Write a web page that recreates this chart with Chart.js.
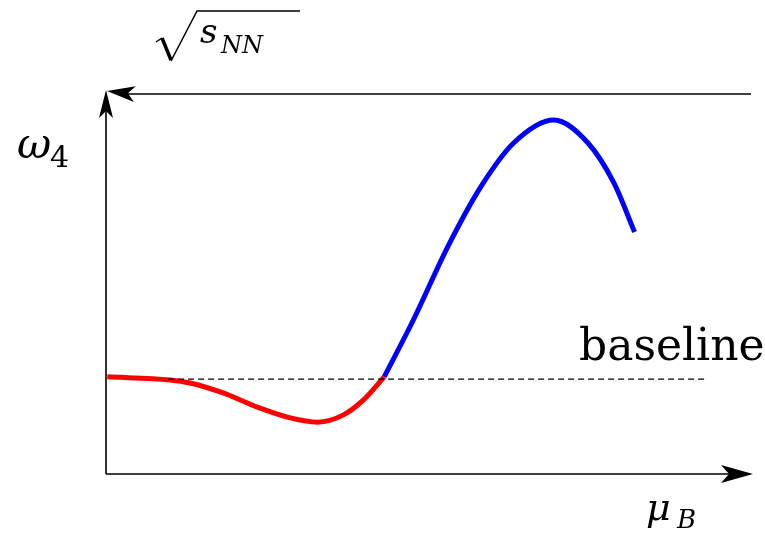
<!DOCTYPE html>
<html>
<head>
<meta charset="utf-8">
<script src="https://cdn.jsdelivr.net/npm/chart.js@4"></script>
<style>
  html, body { margin: 0; padding: 0; background: #fff; }
  canvas { display: block; }
</style>
</head>
<body>
<canvas id="chart" width="765" height="539"></canvas>
<script>
// schematic curves, arbitrary units (x: mu_B, y: omega_4), both axes 0..10
const redX = [0.02, 0.99, 1.30, 1.81, 2.34, 2.85, 3.27, 3.67, 3.98, 4.30];
const redY = [2.53, 2.45, 2.37, 2.11, 1.74, 1.46, 1.35, 1.54, 1.93, 2.53];
const blueX = [4.30, 4.75, 5.28, 5.79, 6.30, 6.92, 7.45, 7.85, 8.17];
const blueY = [2.53, 4.01, 5.91, 7.47, 8.62, 9.22, 8.62, 7.58, 6.30];
const baselineX = [0.96, 9.30];
const baselineY = [2.47, 2.47];

const SERIF = '"DejaVu Serif", "Liberation Serif", serif';

const toPoints = (xs, ys) => xs.map((x, i) => ({ x: x, y: ys[i] }));

// stealth-like arrow head
function arrowHead(ctx, tx, ty, angle, len, halfW, notch) {
    const dx = Math.cos(angle), dy = Math.sin(angle);
    const px = -dy, py = dx;
    ctx.beginPath();
    ctx.moveTo(tx, ty);
    ctx.lineTo(tx - len * dx + halfW * px, ty - len * dy + halfW * py);
    ctx.lineTo(tx - (len - notch) * dx, ty - (len - notch) * dy);
    ctx.lineTo(tx - len * dx - halfW * px, ty - len * dy - halfW * py);
    ctx.closePath();
    ctx.fill();
}

const axesPlugin = {
    id: 'axesPlugin',
    beforeDatasetsDraw(chart) {
        const ctx = chart.ctx;
        const xs = chart.scales.x, ys = chart.scales.y;
        const x0 = xs.getPixelForValue(0), x1 = xs.getPixelForValue(10);
        const y0 = ys.getPixelForValue(0), y1 = ys.getPixelForValue(10);
        ctx.save();
        ctx.strokeStyle = '#000';
        ctx.fillStyle = '#000';
        ctx.lineWidth = 1.6;
        // x axis
        ctx.beginPath();
        ctx.moveTo(x0, y0);
        ctx.lineTo(x1 - 20, y0);
        ctx.stroke();
        arrowHead(ctx, x1, y0, 0, 32, 9, 8);
        // y axis
        ctx.beginPath();
        ctx.moveTo(x0, y0);
        ctx.lineTo(x0, y1 + 18);
        ctx.stroke();
        arrowHead(ctx, x0, y1, -Math.PI / 2, 28, 7, 7);
        // top axis (sqrt s_NN), pointing left
        ctx.beginPath();
        ctx.moveTo(x1 - 2, y1 + 4);
        ctx.lineTo(x0 + 22, y1 + 4);
        ctx.stroke();
        arrowHead(ctx, x0 + 1, y1 + 1, Math.atan2(-3, -27), 28, 8, 7);
        ctx.restore();
    },
    afterDraw(chart) {
        const ctx = chart.ctx;
        ctx.save();
        ctx.fillStyle = '#000';
        ctx.strokeStyle = '#000';
        ctx.textBaseline = 'alphabetic';
        ctx.textAlign = 'left';
        // omega_4
        ctx.font = 'italic 42px ' + SERIF;
        ctx.fillText('ω', 17, 158);
        ctx.font = '30px ' + SERIF;
        ctx.fillText('4', 50, 167);
        // sqrt(s_NN)
        ctx.lineJoin = 'miter';
        ctx.lineWidth = 1.5;
        ctx.beginPath();
        ctx.moveTo(156, 42);
        ctx.lineTo(162, 38);
        ctx.stroke();
        ctx.lineWidth = 3.5;
        ctx.beginPath();
        ctx.moveTo(162, 38);
        ctx.lineTo(171, 60);
        ctx.stroke();
        ctx.lineWidth = 1.5;
        ctx.beginPath();
        ctx.moveTo(171, 61);
        ctx.lineTo(197, 11);
        ctx.lineTo(300, 11);
        ctx.stroke();
        ctx.font = 'italic 34px ' + SERIF;
        ctx.fillText('s', 200, 43);
        ctx.font = 'italic 24px ' + SERIF;
        ctx.fillText('NN', 221, 53);
        // mu_B
        ctx.font = 'italic 38px ' + SERIF;
        ctx.fillText('μ', 646, 520);
        ctx.font = 'italic 26px ' + SERIF;
        ctx.fillText('B', 677, 528);
        // baseline label
        ctx.font = '44px ' + SERIF;
        ctx.letterSpacing = '0px';
        ctx.fillText('baseline', 579, 360);
        ctx.restore();
    }
};

new Chart(document.getElementById('chart'), {
    type: 'line',
    data: {
        datasets: [
            {
                data: toPoints(baselineX, baselineY),
                borderColor: '#000',
                borderWidth: 1.4,
                borderDash: [6, 4],
                pointRadius: 0
            },
            {
                data: toPoints(redX, redY),
                borderColor: '#ff0000',
                borderWidth: 5,
                cubicInterpolationMode: 'monotone',
                pointRadius: 0
            },
            {
                data: toPoints(blueX, blueY),
                borderColor: '#0000ff',
                borderWidth: 5,
                cubicInterpolationMode: 'monotone',
                pointRadius: 0
            }
        ]
    },
    options: {
        responsive: false,
        animation: false,
        layout: { padding: { left: 106, right: 12, top: 90, bottom: 65 } },
        scales: {
            x: { type: 'linear', min: 0, max: 10, display: false },
            y: { type: 'linear', min: 0, max: 10, display: false }
        },
        plugins: { legend: { display: false }, tooltip: { enabled: false } }
    },
    plugins: [axesPlugin]
});
</script>
</body>
</html>
